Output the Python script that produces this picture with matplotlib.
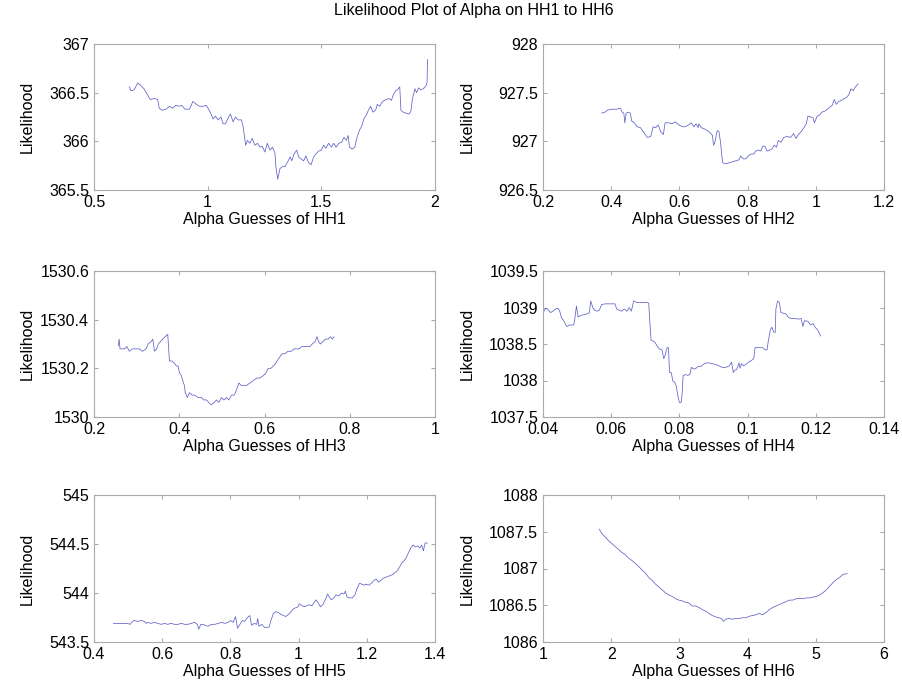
import matplotlib
matplotlib.use('Agg')
import matplotlib.pyplot as plt
from matplotlib.ticker import FuncFormatter

plt.rcParams['font.family'] = ['Liberation Sans', 'DejaVu Sans']

# --- data ---
hh1_x = [0.655, 0.662, 0.677, 0.692, 0.707, 0.72, 0.735, 0.747, 0.765, 0.78, 0.787, 0.80, 0.817, 0.832,
         0.847, 0.86, 0.876, 0.886, 0.90, 0.92, 0.935, 0.95, 0.964, 0.979, 0.994, 1.009, 1.024, 1.034,
         1.046, 1.058, 1.068, 1.078, 1.09, 1.10, 1.112, 1.122, 1.134, 1.149, 1.156, 1.167, 1.175, 1.186,
         1.196, 1.208, 1.219, 1.23, 1.24, 1.252, 1.262, 1.274, 1.285, 1.296, 1.30, 1.308, 1.318, 1.329,
         1.34, 1.352, 1.363, 1.37, 1.38, 1.392, 1.40, 1.411, 1.422, 1.432, 1.444, 1.455, 1.466, 1.476,
         1.488, 1.50, 1.51, 1.52, 1.532, 1.544, 1.555, 1.565, 1.577, 1.589, 1.60, 1.61, 1.618, 1.624,
         1.636, 1.647, 1.658, 1.669, 1.68, 1.687, 1.698, 1.707, 1.717, 1.727, 1.739, 1.746, 1.757, 1.766,
         1.776, 1.786, 1.798, 1.808, 1.817, 1.827, 1.835, 1.845, 1.85, 1.86, 1.872, 1.886, 1.894, 1.901,
         1.912, 1.919, 1.928, 1.938, 1.949, 1.96, 1.965, 1.967]
hh1_y = [366.56, 366.52, 366.53, 366.60, 366.57, 366.54, 366.48, 366.43, 366.44, 366.43, 366.34, 366.32,
         366.33, 366.36, 366.34, 366.37, 366.36, 366.37, 366.33, 366.33, 366.41, 366.38, 366.36, 366.36,
         366.37, 366.31, 366.23, 366.26, 366.22, 366.25, 366.18, 366.18, 366.24, 366.28, 366.20, 366.25,
         366.22, 366.22, 366.15, 365.96, 366.01, 365.98, 366.03, 365.96, 365.98, 365.94, 365.95, 365.89,
         365.98, 365.91, 365.94, 365.88, 365.74, 365.61, 365.72, 365.74, 365.74, 365.79, 365.84, 365.80,
         365.87, 365.91, 365.84, 365.82, 365.80, 365.85, 365.78, 365.76, 365.84, 365.87, 365.90, 365.91,
         365.96, 365.93, 365.98, 365.94, 365.98, 365.94, 365.98, 365.99, 366.04, 366.01, 366.06, 365.94,
         365.92, 365.94, 366.05, 366.12, 366.17, 366.23, 366.27, 366.32, 366.36, 366.30, 366.32, 366.38,
         366.36, 366.40, 366.42, 366.43, 366.44, 366.42, 366.48, 366.52, 366.53, 366.56, 366.32, 366.30,
         366.29, 366.28, 366.31, 366.44, 366.54, 366.50, 366.55, 366.53, 366.54, 366.57, 366.60, 366.84]

hh2_x = [0.372, 0.382, 0.389, 0.402, 0.415, 0.427, 0.432, 0.437, 0.44, 0.444, 0.45, 0.456, 0.46, 0.468,
         0.476, 0.486, 0.496, 0.506, 0.516, 0.523, 0.53, 0.538, 0.545, 0.553, 0.558, 0.568, 0.578, 0.588,
         0.598, 0.608, 0.618, 0.627, 0.635, 0.642, 0.649, 0.655, 0.657, 0.664, 0.672, 0.682, 0.69, 0.697,
         0.70, 0.704, 0.711, 0.716, 0.721, 0.724, 0.727, 0.736, 0.746, 0.756, 0.765, 0.775, 0.78, 0.787,
         0.795, 0.802, 0.81, 0.818, 0.824, 0.831, 0.839, 0.844, 0.851, 0.857, 0.864, 0.871, 0.878, 0.885,
         0.89, 0.898, 0.906, 0.916, 0.926, 0.935, 0.942, 0.949, 0.957, 0.965, 0.972, 0.977, 0.985, 0.992,
         0.996, 1.004, 1.011, 1.018, 1.026, 1.034, 1.041, 1.048, 1.054, 1.06, 1.067, 1.075, 1.083, 1.09,
         1.097, 1.103, 1.11, 1.114, 1.119, 1.124]
hh2_y = [927.29, 927.30, 927.32, 927.33, 927.33, 927.34, 927.30, 927.29, 927.19, 927.29, 927.30, 927.29,
         927.21, 927.19, 927.15, 927.14, 927.09, 927.04, 927.05, 927.15, 927.14, 927.17, 927.10, 927.07,
         927.19, 927.19, 927.18, 927.20, 927.17, 927.15, 927.15, 927.17, 927.19, 927.15, 927.18, 927.14,
         927.18, 927.14, 927.13, 927.11, 927.09, 927.06, 926.96, 926.99, 927.11, 927.10, 926.98, 926.86,
         926.78, 926.77, 926.78, 926.79, 926.80, 926.81, 926.85, 926.82, 926.82, 926.85, 926.87, 926.87,
         926.90, 926.91, 926.90, 926.95, 926.95, 926.90, 926.91, 926.92, 926.96, 926.94, 927.01, 926.99,
         927.04, 927.05, 927.04, 927.08, 927.03, 927.07, 927.10, 927.14, 927.18, 927.26, 927.25, 927.24,
         927.19, 927.26, 927.27, 927.30, 927.31, 927.33, 927.35, 927.37, 927.43, 927.38, 927.41, 927.42,
         927.44, 927.45, 927.48, 927.54, 927.52, 927.55, 927.57, 927.59]

hh3_x = [0.257, 0.259, 0.261, 0.267, 0.272, 0.277, 0.283, 0.29, 0.298, 0.306, 0.314, 0.322, 0.327, 0.334,
         0.338, 0.342, 0.347, 0.351, 0.356, 0.361, 0.367, 0.373, 0.377, 0.383, 0.389, 0.393, 0.397, 0.401,
         0.405, 0.408, 0.412, 0.414, 0.419, 0.424, 0.43, 0.436, 0.444, 0.452, 0.458, 0.464, 0.469, 0.475,
         0.482, 0.487, 0.493, 0.499, 0.505, 0.511, 0.516, 0.523, 0.529, 0.534, 0.54, 0.545, 0.55, 0.558,
         0.566, 0.574, 0.582, 0.589, 0.597, 0.603, 0.609, 0.615, 0.621, 0.626, 0.633, 0.637, 0.642, 0.648,
         0.655, 0.663, 0.67, 0.676, 0.681, 0.688, 0.696, 0.701, 0.707, 0.712, 0.719, 0.723, 0.727, 0.731,
         0.737, 0.743, 0.749, 0.755, 0.759, 0.763]
hh3_y = [1530.293, 1530.32, 1530.28, 1530.28, 1530.28, 1530.29, 1530.27, 1530.28, 1530.28, 1530.28,
         1530.27, 1530.28, 1530.30, 1530.31, 1530.32, 1530.27, 1530.28, 1530.30, 1530.31, 1530.32,
         1530.33, 1530.34, 1530.23, 1530.23, 1530.22, 1530.21, 1530.21, 1530.18, 1530.17, 1530.15,
         1530.13, 1530.10, 1530.08, 1530.10, 1530.09, 1530.09, 1530.08, 1530.08, 1530.07, 1530.07,
         1530.06, 1530.05, 1530.06, 1530.07, 1530.06, 1530.08, 1530.07, 1530.08, 1530.07, 1530.09,
         1530.09, 1530.11, 1530.14, 1530.13, 1530.13, 1530.13, 1530.14, 1530.15, 1530.16, 1530.16,
         1530.17, 1530.18, 1530.20, 1530.20, 1530.21, 1530.22, 1530.24, 1530.25, 1530.26, 1530.26,
         1530.27, 1530.27, 1530.28, 1530.28, 1530.28, 1530.29, 1530.29, 1530.29, 1530.29, 1530.30,
         1530.31, 1530.33, 1530.31, 1530.30, 1530.31, 1530.32, 1530.32, 1530.33, 1530.32, 1530.33]

hh4_x = [0.0400, 0.0408, 0.0415, 0.0422, 0.0429, 0.0437, 0.0444, 0.0449, 0.0454, 0.0461, 0.0467, 0.0471,
         0.0477, 0.0484, 0.0490, 0.0493, 0.0498, 0.0503, 0.0510, 0.0518, 0.0528, 0.0536, 0.0540, 0.0546,
         0.0552, 0.0559, 0.0565, 0.0572, 0.0582, 0.0592, 0.0602, 0.0611, 0.0616, 0.0624, 0.0631, 0.0638,
         0.0646, 0.0653, 0.0659, 0.0666, 0.0675, 0.0685, 0.0695, 0.0705, 0.0710, 0.0713, 0.0717, 0.0723,
         0.0729, 0.0736, 0.0742, 0.0749, 0.0754, 0.0759, 0.0764, 0.0768, 0.0771, 0.0776, 0.0781, 0.0786,
         0.0791, 0.0795, 0.0800, 0.0805, 0.0808, 0.0811, 0.0818, 0.0825, 0.0831, 0.0835, 0.0841, 0.0847,
         0.0854, 0.0862, 0.0870, 0.0877, 0.0887, 0.0897, 0.0907, 0.0916, 0.0926, 0.0936, 0.0946, 0.0953,
         0.0958, 0.0962, 0.0968, 0.0975, 0.0978, 0.0982, 0.0988, 0.0995, 0.1002, 0.1010, 0.1018, 0.1022,
         0.1029, 0.1037, 0.1044, 0.1051, 0.1057, 0.1061, 0.1067, 0.1071, 0.1077, 0.1081, 0.1083, 0.1088,
         0.1093, 0.1098, 0.1106, 0.1113, 0.1120, 0.1130, 0.1140, 0.1149, 0.1157, 0.1162, 0.1167, 0.1177,
         0.1185, 0.1192, 0.1198, 0.1206, 0.1214]
hh4_y = [1038.93, 1038.99, 1038.97, 1038.93, 1038.95, 1038.98, 1038.99, 1038.95, 1038.86, 1038.82,
         1038.76, 1038.74, 1038.76, 1038.76, 1038.76, 1038.83, 1039.02, 1038.87, 1038.89, 1038.90,
         1038.91, 1038.93, 1039.09, 1039.00, 1038.96, 1038.95, 1038.96, 1039.04, 1039.05, 1039.05,
         1039.05, 1039.05, 1038.98, 1038.96, 1038.95, 1038.98, 1038.95, 1039.00, 1038.95, 1039.09,
         1039.07, 1039.07, 1039.07, 1039.07, 1039.06, 1038.82, 1038.55, 1038.54, 1038.52, 1038.46,
         1038.43, 1038.42, 1038.30, 1038.36, 1038.45, 1038.45, 1038.11, 1038.11, 1037.99, 1037.98,
         1037.92, 1037.80, 1037.70, 1037.70, 1037.82, 1038.07, 1038.08, 1038.07, 1038.09, 1038.18,
         1038.16, 1038.16, 1038.19, 1038.19, 1038.22, 1038.24, 1038.24, 1038.23, 1038.22, 1038.20,
         1038.18, 1038.18, 1038.20, 1038.25, 1038.11, 1038.14, 1038.15, 1038.24, 1038.17, 1038.23,
         1038.20, 1038.22, 1038.25, 1038.27, 1038.30, 1038.45, 1038.45, 1038.45, 1038.45, 1038.42,
         1038.42, 1038.55, 1038.70, 1038.73, 1038.66, 1038.66, 1038.98, 1039.09, 1039.07, 1038.93,
         1038.92, 1038.91, 1038.86, 1038.85, 1038.85, 1038.84, 1038.85, 1038.74, 1038.82, 1038.81,
         1038.76, 1038.78, 1038.73, 1038.69, 1038.61]

hh5_x = [0.457, 0.469, 0.484, 0.498, 0.506, 0.51, 0.518, 0.528, 0.538, 0.548, 0.553, 0.559, 0.567, 0.577,
         0.587, 0.597, 0.607, 0.616, 0.626, 0.636, 0.646, 0.656, 0.666, 0.675, 0.685, 0.695, 0.703, 0.707,
         0.713, 0.72, 0.726, 0.734, 0.744, 0.754, 0.764, 0.774, 0.784, 0.793, 0.801, 0.808, 0.815, 0.821,
         0.828, 0.835, 0.842, 0.85, 0.857, 0.862, 0.87, 0.877, 0.88, 0.884, 0.892, 0.90, 0.906, 0.913,
         0.919, 0.926, 0.933, 0.941, 0.949, 0.956, 0.962, 0.97, 0.978, 0.985, 0.992, 0.998, 1.002, 1.01,
         1.018, 1.024, 1.031, 1.039, 1.047, 1.051, 1.057, 1.064, 1.071, 1.078, 1.085, 1.09, 1.096, 1.103,
         1.11, 1.118, 1.126, 1.133, 1.137, 1.142, 1.149, 1.157, 1.165, 1.172, 1.179, 1.185, 1.192, 1.198,
         1.206, 1.214, 1.221, 1.228, 1.234, 1.241, 1.248, 1.255, 1.263, 1.27, 1.277, 1.283, 1.29, 1.297,
         1.303, 1.31, 1.317, 1.322, 1.329, 1.336, 1.342, 1.349, 1.356, 1.361, 1.366, 1.371, 1.378]
hh5_y = [543.69, 543.69, 543.69, 543.69, 543.68, 543.70, 543.72, 543.71, 543.72, 543.71, 543.69, 543.70,
         543.69, 543.70, 543.69, 543.68, 543.69, 543.68, 543.69, 543.68, 543.68, 543.69, 543.68, 543.68,
         543.69, 543.70, 543.68, 543.63, 543.68, 543.68, 543.67, 543.66, 543.68, 543.68, 543.69, 543.70,
         543.69, 543.70, 543.72, 543.70, 543.76, 543.64, 543.68, 543.72, 543.71, 543.75, 543.77, 543.67,
         543.69, 543.68, 543.74, 543.66, 543.68, 543.65, 543.65, 543.65, 543.72, 543.79, 543.81, 543.80,
         543.78, 543.77, 543.76, 543.78, 543.81, 543.84, 543.85, 543.86, 543.89, 543.87, 543.86, 543.87,
         543.88, 543.87, 543.91, 543.93, 543.90, 543.86, 543.88, 543.93, 543.99, 543.96, 543.93, 543.95,
         543.98, 543.97, 544.00, 543.99, 544.02, 543.96, 543.95, 543.95, 543.98, 544.05, 544.10, 544.09,
         544.08, 544.09, 544.08, 544.10, 544.13, 544.14, 544.11, 544.13, 544.15, 544.16, 544.17, 544.18,
         544.19, 544.21, 544.23, 544.27, 544.31, 544.33, 544.37, 544.41, 544.46, 544.49, 544.47, 544.48,
         544.46, 544.49, 544.43, 544.51, 544.51]

hh6_x = [1.826, 1.86, 1.91, 1.959, 2.008, 2.057, 2.106, 2.155, 2.205, 2.254, 2.303, 2.352, 2.401, 2.45,
         2.50, 2.549, 2.598, 2.647, 2.696, 2.745, 2.795, 2.844, 2.893, 2.942, 2.991, 3.04, 3.089, 3.139,
         3.188, 3.237, 3.286, 3.335, 3.384, 3.434, 3.483, 3.532, 3.581, 3.616, 3.645, 3.679, 3.728, 3.778,
         3.827, 3.876, 3.925, 3.974, 4.024, 4.073, 4.122, 4.171, 4.22, 4.269, 4.319, 4.368, 4.417, 4.466,
         4.515, 4.565, 4.614, 4.663, 4.712, 4.761, 4.81, 4.859, 4.909, 4.958, 5.007, 5.056, 5.105, 5.154,
         5.204, 5.253, 5.302, 5.351, 5.40, 5.46]
hh6_y = [1087.535, 1087.48, 1087.43, 1087.38, 1087.34, 1087.30, 1087.26, 1087.22, 1087.19, 1087.14,
         1087.11, 1087.07, 1087.03, 1086.98, 1086.94, 1086.88, 1086.84, 1086.79, 1086.75, 1086.71,
         1086.67, 1086.64, 1086.62, 1086.59, 1086.57, 1086.56, 1086.54, 1086.53, 1086.49, 1086.49,
         1086.47, 1086.44, 1086.42, 1086.39, 1086.36, 1086.34, 1086.33, 1086.32, 1086.28, 1086.31,
         1086.32, 1086.31, 1086.32, 1086.32, 1086.33, 1086.33, 1086.35, 1086.36, 1086.37, 1086.39,
         1086.37, 1086.40, 1086.44, 1086.47, 1086.49, 1086.51, 1086.53, 1086.55, 1086.57, 1086.57,
         1086.59, 1086.59, 1086.59, 1086.60, 1086.60, 1086.61, 1086.62, 1086.64, 1086.67, 1086.71,
         1086.76, 1086.81, 1086.85, 1086.88, 1086.92, 1086.93]

x_ticks = [
    [0.5, 1, 1.5, 2],
    [0.2, 0.4, 0.6, 0.8, 1.0, 1.2],
    [0.2, 0.4, 0.6, 0.8, 1.0],
    [0.04, 0.06, 0.08, 0.1, 0.12, 0.14],
    [0.4, 0.6, 0.8, 1.0, 1.2, 1.4],
    [1, 2, 3, 4, 5, 6],
]
y_ticks = [
    [365.5, 366, 366.5, 367],
    [926.5, 927, 927.5, 928],
    [1530, 1530.2, 1530.4, 1530.6],
    [1037.5, 1038, 1038.5, 1039, 1039.5],
    [543.5, 544, 544.5, 545],
    [1086, 1086.5, 1087, 1087.5, 1088],
]
series = [(hh1_x, hh1_y), (hh2_x, hh2_y), (hh3_x, hh3_y),
          (hh4_x, hh4_y), (hh5_x, hh5_y), (hh6_x, hh6_y)]

# axes boxes in pixels of the 902x690 figure
W, H = 902, 690
cols = [(94, 435), (543, 884)]
rows = [(44, 190), (271, 417), (495, 642)]
ylabel_x = [-0.173, -0.199]

fig = plt.figure(figsize=(W / 100, H / 100), dpi=100)
edge = '#ababab'
fs = 11.5
fmt = FuncFormatter(lambda v, p: '%g' % round(v, 6))

for i, (xs, ys) in enumerate(series):
    l, r = cols[i % 2]
    t, b = rows[i // 2]
    ax = fig.add_axes([l / W, 1 - b / H, (r - l) / W, (b - t) / H])
    ax.plot(xs, ys, color='#6060c8', linewidth=0.55)
    ax.set_xlim(x_ticks[i][0], x_ticks[i][-1])
    ax.set_ylim(y_ticks[i][0], y_ticks[i][-1])
    ax.set_xticks(x_ticks[i])
    ax.set_yticks(y_ticks[i])
    ax.xaxis.set_major_formatter(fmt)
    ax.yaxis.set_major_formatter(fmt)
    for s in ax.spines.values():
        s.set_color(edge)
        s.set_linewidth(0.8)
    ax.tick_params(direction='in', length=3, width=0.8, color=edge,
                   top=True, right=True, labelsize=fs, labelcolor='black')
    ax.tick_params(axis='x', pad=3.5)
    ax.tick_params(axis='y', pad=3.5)
    ax.set_xlabel('Alpha Guesses of HH%d' % (i + 1), fontsize=fs, labelpad=1.5)
    ax.set_ylabel('Likelihood', fontsize=fs)
    ax.yaxis.set_label_coords(ylabel_x[i % 2], 0.5)

# MATLAB placed the overall title slightly right of the figure centre
fig.text(474 / W, 1 - 11 / H, 'Likelihood Plot of Alpha on HH1 to HH6',
         ha='center', va='center', fontsize=fs)

fig.savefig('out.png', dpi=100)
